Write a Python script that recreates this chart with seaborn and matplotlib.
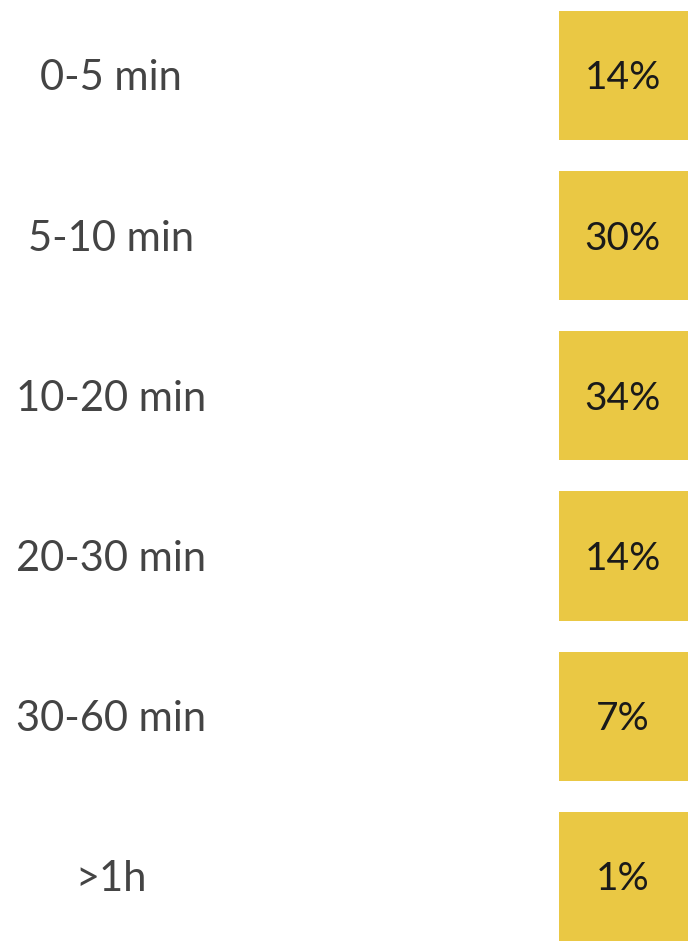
import numpy as np
import matplotlib
matplotlib.use("Agg")
import matplotlib.pyplot as plt
from matplotlib.colors import ListedColormap
import seaborn as sns

categories = ["0-5 min", "5-10 min", "10-20 min", "20-30 min", "30-60 min", ">1h"]
values = [14, 30, 34, 14, 7, 1]

sns.set_theme(style="white")
plt.rcParams['font.family'] = ['Lato', 'DejaVu Sans']

W, H, DPI = 699, 944, 100
fig = plt.figure(figsize=(W / DPI, H / DPI), dpi=DPI)
fig.patch.set_facecolor("white")

pitch = 160.2
ax_left = 542.75
ax_top = 10 - 15.25
n = len(categories)
ax = fig.add_axes([ax_left / W, (H - (ax_top + pitch * n)) / H, pitch / W, pitch * n / H])

data = np.array(values, dtype=float).reshape(-1, 1)
annot = np.array([f"{v}%" for v in values]).reshape(-1, 1)
sns.heatmap(data, ax=ax, cmap=ListedColormap(["#EAC844"]), cbar=False,
            annot=annot, fmt="", linewidths=30.5 * 72 / DPI, linecolor="white",
            annot_kws={"fontsize": 28, "color": "#1a1a1a"},
            xticklabels=False, yticklabels=categories)
for t in ax.texts:
    t.set_va("center_baseline")

ax.tick_params(axis="y", length=0, pad=(ax_left - 111) * 72 / DPI)
for t in ax.get_yticklabels():
    t.set_rotation(0)
    t.set_ha("center")
    t.set_va("center_baseline")
    t.set_fontsize(30)
    t.set_color("#444444")
for s in ax.spines.values():
    s.set_visible(False)

fig.savefig("out.png", dpi=DPI, facecolor="white")
